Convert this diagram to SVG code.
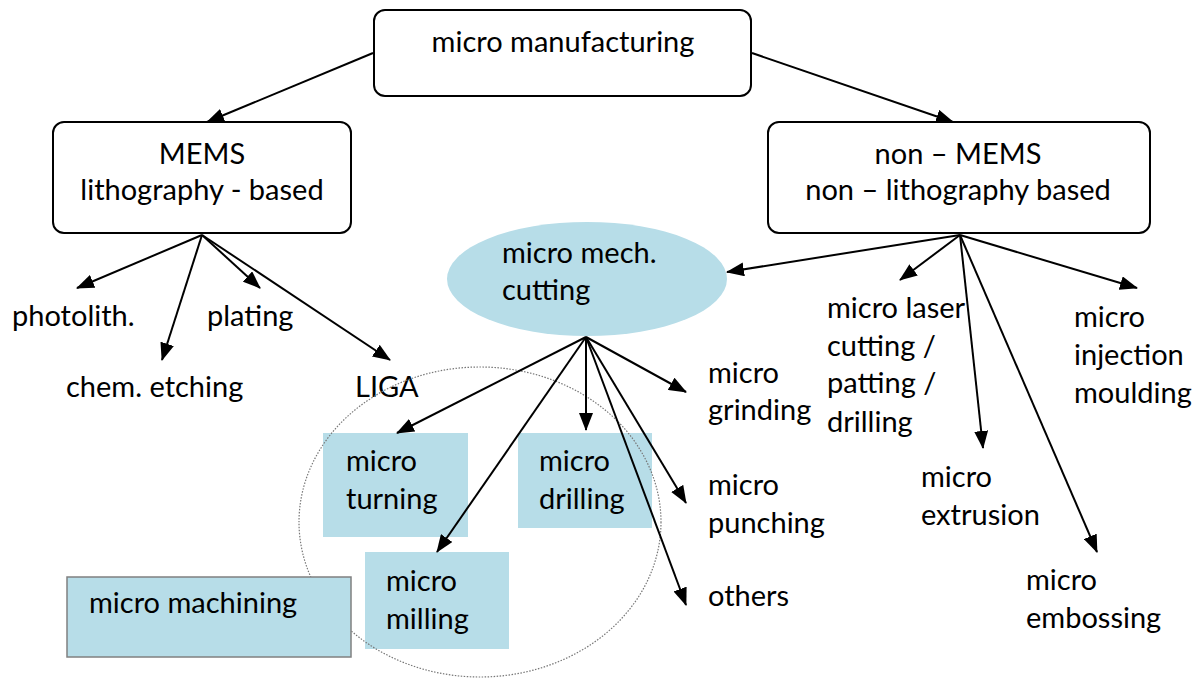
<svg xmlns="http://www.w3.org/2000/svg" width="1199" height="678" viewBox="0 0 1199 678">
<defs>
<style>
text{font-family:Lato,"Liberation Sans",sans-serif;font-size:29px;fill:#000}
.box{fill:#fff;stroke:#000;stroke-width:2}
.blue{fill:#b7dde8;stroke:none}
.mach{fill:#b7dde8;stroke:#808080;stroke-width:1.5}
.c{text-anchor:middle}
#edges line,#edges2 line{stroke:#000;stroke-width:2;marker-end:url(#ah)}
</style>
<marker id="ah" markerUnits="userSpaceOnUse" markerWidth="18" markerHeight="14" refX="17" refY="7" orient="auto">
<path d="M0,0 L18,7 L0,14 z" fill="#000"/>
</marker>
</defs>
<rect width="1199" height="678" fill="#fff"/>

<g id="edges">
<line x1="373" y1="53" x2="207" y2="122"/>
<line x1="752" y1="53" x2="953" y2="122"/>
<line x1="202" y1="235" x2="77" y2="288"/>
<line x1="202" y1="235" x2="162" y2="360"/>
<line x1="202" y1="235" x2="260" y2="288"/>
<line x1="202" y1="235" x2="390" y2="360"/>
<line x1="960" y1="235" x2="727" y2="272"/>
<line x1="960" y1="235" x2="900" y2="280"/>
<line x1="960" y1="235" x2="1137" y2="288"/>
<line x1="960" y1="235" x2="983" y2="448"/>
<line x1="960" y1="235" x2="1097" y2="552"/>
</g>

<g id="n-top"><rect class="box" x="374" y="10" width="377" height="86" rx="11"/><text class="c" x="563" y="52">micro manufacturing</text></g>
<g id="n-mems"><rect class="box" x="53" y="122" width="298" height="111" rx="11"/><text class="c" x="202" y="164">MEMS</text><text class="c" x="202" y="200">lithography - based</text></g>
<g id="n-nonmems"><rect class="box" x="768" y="122" width="382" height="111" rx="11"/><text class="c" x="958" y="164">non – MEMS</text><text class="c" x="958" y="200">non – lithography based</text></g>

<g id="n-cutting"><ellipse cx="587" cy="279" rx="140" ry="57" fill="#b7dde8"/><text x="502" y="263">micro mech.</text><text x="502" y="300">cutting</text></g>

<g id="n-photolith"><text x="12" y="326">photolith.</text></g>
<g id="n-plating"><text x="207" y="326">plating</text></g>
<g id="n-chem"><text x="66" y="397">chem. etching</text></g>
<g id="n-liga"><text x="355" y="397">LIGA</text></g>

<g id="n-laser"><text x="827" y="318">micro laser</text><text x="827" y="356">cutting /</text><text x="827" y="393">patting /</text><text x="827" y="432">drilling</text></g>
<g id="n-injection"><text x="1074" y="327">micro</text><text x="1074" y="365">injection</text><text x="1074" y="403">moulding</text></g>
<g id="n-extrusion"><text x="921" y="487">micro</text><text x="921" y="525">extrusion</text></g>
<g id="n-embossing"><text x="1026" y="590">micro</text><text x="1026" y="628">embossing</text></g>
<g id="n-grinding"><text x="708" y="383">micro</text><text x="708" y="420">grinding</text></g>
<g id="n-punching"><text x="708" y="495">micro</text><text x="708" y="533">punching</text></g>
<g id="n-others"><text x="708" y="606">others</text></g>

<g id="n-turning"><rect class="blue" x="323" y="433" width="145" height="104"/><text x="346" y="471">micro</text><text x="346" y="509">turning</text></g>
<g id="n-drilling"><rect class="blue" x="518" y="433" width="134" height="95"/><text x="539" y="471">micro</text><text x="539" y="509">drilling</text></g>
<g id="n-milling"><rect class="blue" x="365" y="552" width="144" height="97"/><text x="386" y="591">micro</text><text x="386" y="629">milling</text></g>

<g id="group-outline"><ellipse cx="480" cy="522" rx="181" ry="155" fill="none" stroke="#777" stroke-width="1.2" stroke-dasharray="1.5,1.5"/></g>

<g id="edges2">
<line x1="586" y1="337" x2="397" y2="433"/>
<line x1="586" y1="337" x2="437" y2="552"/>
<line x1="586" y1="337" x2="586" y2="430"/>
<line x1="586" y1="337" x2="686" y2="392"/>
<line x1="586" y1="337" x2="686" y2="503"/>
<line x1="586" y1="337" x2="686" y2="605"/>
</g>

<g id="n-machining"><rect class="mach" x="67" y="577" width="284" height="80"/><text x="89" y="613">micro machining</text></g>
</svg>
